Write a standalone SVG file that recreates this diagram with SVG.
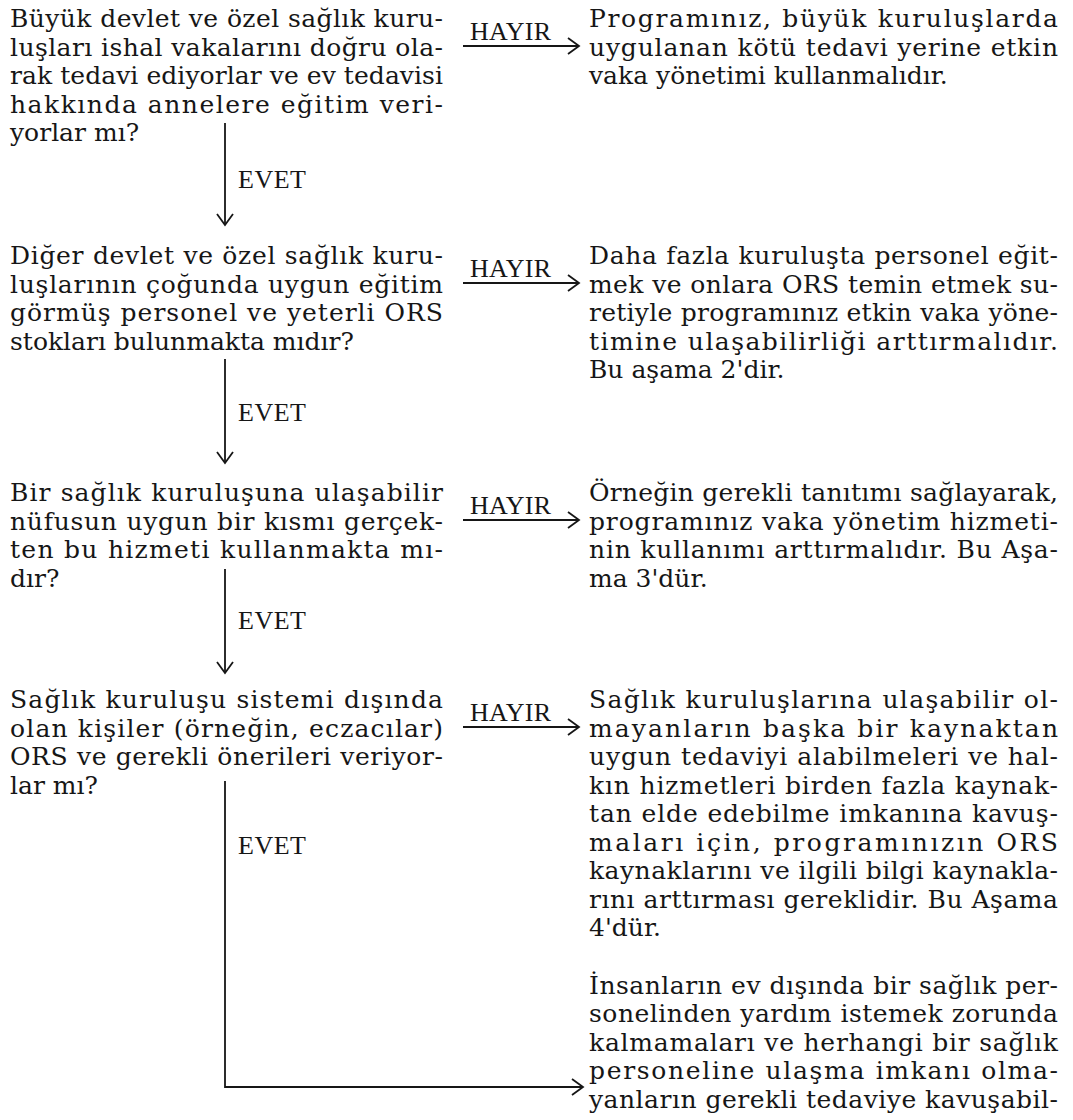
<svg xmlns="http://www.w3.org/2000/svg" width="1073" height="1120" viewBox="0 0 1073 1120">
<style>
.t{font-family:"DejaVu Serif","Liberation Serif",serif;font-size:25px;fill:#161616}
.lb{font-family:"Liberation Serif","Times New Roman",serif;font-size:26px;fill:#161616}
.c{fill:none;stroke:#161616;stroke-width:1.8}
</style>
<defs>
<marker id="ah" markerUnits="userSpaceOnUse" viewBox="-13 -10 15 20" refX="0" refY="0" markerWidth="15" markerHeight="20" orient="auto" overflow="visible">
<path d="M-11,-8 L0,0 L-11,8" fill="none" stroke="#161616" stroke-width="1.8"/>
</marker>
</defs>
<rect width="1073" height="1120" fill="#ffffff"/>

<g id="q1">
<text class="t" x="10" y="27" textLength="433" lengthAdjust="spacing">Büyük devlet ve özel sağlık kuru-</text>
<text class="t" x="10" y="55.5" textLength="433" lengthAdjust="spacing">luşları ishal vakalarını doğru ola-</text>
<text class="t" x="10" y="84" textLength="433" lengthAdjust="spacing">rak tedavi ediyorlar ve ev tedavisi</text>
<text class="t" x="10" y="112.5" textLength="433" lengthAdjust="spacing">hakkında annelere eğitim veri-</text>
<text class="t" x="10" y="141">yorlar mı?</text>
</g>
<g id="a1">
<text class="t" x="589" y="27" textLength="469" lengthAdjust="spacing">Programınız, büyük kuruluşlarda</text>
<text class="t" x="589" y="55.5" textLength="469" lengthAdjust="spacing">uygulanan kötü tedavi yerine etkin</text>
<text class="t" x="589" y="84">vaka yönetimi kullanmalıdır.</text>
</g>

<g id="q2">
<text class="t" x="10" y="264" textLength="433" lengthAdjust="spacing">Diğer devlet ve özel sağlık kuru-</text>
<text class="t" x="10" y="292.5" textLength="433" lengthAdjust="spacing">luşlarının çoğunda uygun eğitim</text>
<text class="t" x="10" y="321" textLength="433" lengthAdjust="spacing">görmüş personel ve yeterli ORS</text>
<text class="t" x="10" y="349.5">stokları bulunmakta mıdır?</text>
</g>
<g id="a2">
<text class="t" x="589" y="264" textLength="469" lengthAdjust="spacing">Daha fazla kuruluşta personel eğit-</text>
<text class="t" x="589" y="292.5" textLength="469" lengthAdjust="spacing">mek ve onlara ORS temin etmek su-</text>
<text class="t" x="589" y="321" textLength="469" lengthAdjust="spacing">retiyle programınız etkin vaka yöne-</text>
<text class="t" x="589" y="349.5" textLength="469" lengthAdjust="spacing">timine ulaşabilirliği arttırmalıdır.</text>
<text class="t" x="589" y="378">Bu aşama 2'dir.</text>
</g>

<g id="q3">
<text class="t" x="10" y="501" textLength="433" lengthAdjust="spacing">Bir sağlık kuruluşuna ulaşabilir</text>
<text class="t" x="10" y="529.5" textLength="433" lengthAdjust="spacing">nüfusun uygun bir kısmı gerçek-</text>
<text class="t" x="10" y="558" textLength="433" lengthAdjust="spacing">ten bu hizmeti kullanmakta mı-</text>
<text class="t" x="10" y="586.5">dır?</text>
</g>
<g id="a3">
<text class="t" x="589" y="501" textLength="469" lengthAdjust="spacing">Örneğin gerekli tanıtımı sağlayarak,</text>
<text class="t" x="589" y="529.5" textLength="469" lengthAdjust="spacing">programınız vaka yönetim hizmeti-</text>
<text class="t" x="589" y="558" textLength="469" lengthAdjust="spacing">nin kullanımı arttırmalıdır. Bu Aşa-</text>
<text class="t" x="589" y="586.5">ma 3'dür.</text>
</g>

<g id="q4">
<text class="t" x="10" y="708" textLength="433" lengthAdjust="spacing">Sağlık kuruluşu sistemi dışında</text>
<text class="t" x="10" y="736.5" textLength="433" lengthAdjust="spacing">olan kişiler (örneğin, eczacılar)</text>
<text class="t" x="10" y="765" textLength="433" lengthAdjust="spacing">ORS ve gerekli önerileri veriyor-</text>
<text class="t" x="10" y="793.5">lar mı?</text>
</g>
<g id="a4">
<text class="t" x="589" y="708" textLength="469" lengthAdjust="spacing">Sağlık kuruluşlarına ulaşabilir ol-</text>
<text class="t" x="589" y="736.5" textLength="469" lengthAdjust="spacing">mayanların başka bir kaynaktan</text>
<text class="t" x="589" y="765" textLength="469" lengthAdjust="spacing">uygun tedaviyi alabilmeleri ve hal-</text>
<text class="t" x="589" y="793.5" textLength="469" lengthAdjust="spacing">kın hizmetleri birden fazla kaynak-</text>
<text class="t" x="589" y="822" textLength="469" lengthAdjust="spacing">tan elde edebilme imkanına kavuş-</text>
<text class="t" x="589" y="850.5" textLength="469" lengthAdjust="spacing">maları için, programınızın ORS</text>
<text class="t" x="589" y="879" textLength="469" lengthAdjust="spacing">kaynaklarını ve ilgili bilgi kaynakla-</text>
<text class="t" x="589" y="907.5" textLength="469" lengthAdjust="spacing">rını arttırması gereklidir. Bu Aşama</text>
<text class="t" x="589" y="936">4'dür.</text>
</g>
<g id="a5">
<text class="t" x="589" y="993.5" textLength="469" lengthAdjust="spacing">İnsanların ev dışında bir sağlık per-</text>
<text class="t" x="589" y="1022" textLength="469" lengthAdjust="spacing">sonelinden yardım istemek zorunda</text>
<text class="t" x="589" y="1050.5" textLength="469" lengthAdjust="spacing">kalmamaları ve herhangi bir sağlık</text>
<text class="t" x="589" y="1079" textLength="469" lengthAdjust="spacing">personeline ulaşma imkanı olma-</text>
<text class="t" x="589" y="1107.5" textLength="469" lengthAdjust="spacing">yanların gerekli tedaviye kavuşabil-</text>
</g>

<g id="connectors">
<path class="c" d="M463,46 H579" marker-end="url(#ah)"/>
<path class="c" d="M463,283 H579" marker-end="url(#ah)"/>
<path class="c" d="M463,520 H579" marker-end="url(#ah)"/>
<path class="c" d="M463,727 H579" marker-end="url(#ah)"/>
<path class="c" d="M225,123 V225" marker-end="url(#ah)"/>
<path class="c" d="M225,359 V463" marker-end="url(#ah)"/>
<path class="c" d="M225,569 V673" marker-end="url(#ah)"/>
<path class="c" d="M225,781 V1087 H583" marker-end="url(#ah)"/>
<text class="lb" x="470" y="40" textLength="81" lengthAdjust="spacing">HAYIR</text>
<text class="lb" x="470" y="277" textLength="81" lengthAdjust="spacing">HAYIR</text>
<text class="lb" x="470" y="514" textLength="81" lengthAdjust="spacing">HAYIR</text>
<text class="lb" x="470" y="721" textLength="81" lengthAdjust="spacing">HAYIR</text>
<text class="lb" x="238" y="188" textLength="68" lengthAdjust="spacing">EVET</text>
<text class="lb" x="238" y="421" textLength="68" lengthAdjust="spacing">EVET</text>
<text class="lb" x="238" y="629" textLength="68" lengthAdjust="spacing">EVET</text>
<text class="lb" x="238" y="854" textLength="68" lengthAdjust="spacing">EVET</text>
</g>
</svg>
